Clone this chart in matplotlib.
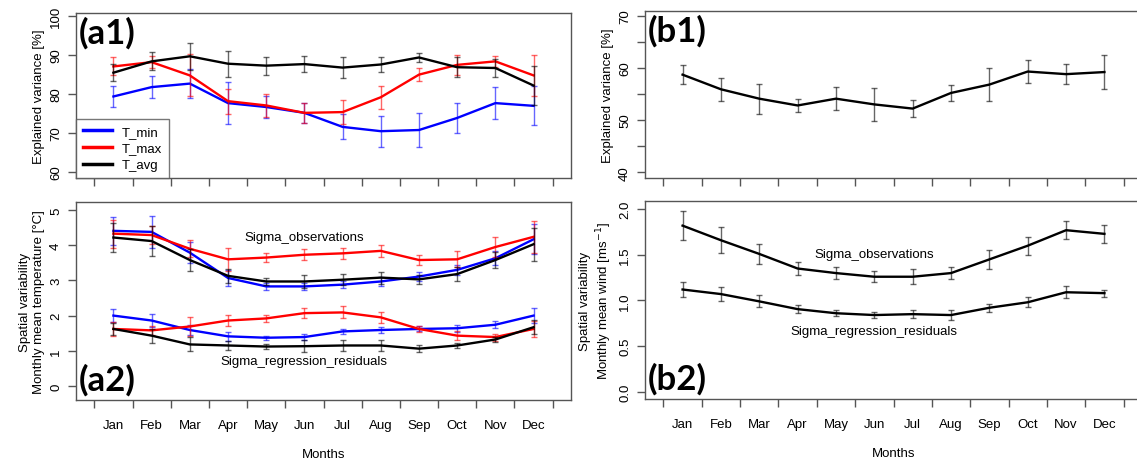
import numpy as np
import matplotlib
matplotlib.use('Agg')
import matplotlib.pyplot as plt
from matplotlib.ticker import FixedLocator, NullFormatter, FixedFormatter

plt.rcParams['font.family'] = ['Liberation Sans', 'DejaVu Sans']

months = ['Jan', 'Feb', 'Mar', 'Apr', 'May', 'Jun', 'Jul', 'Aug', 'Sep', 'Oct', 'Nov', 'Dec']

# (a1) explained variance, temperature
tmin_var = [79.3, 81.7, 82.6, 77.6, 76.6, 75.1, 71.5, 70.4, 70.7, 73.8, 77.6, 76.9]
tmin_var_err = [2.8, 2.8, 3.7, 5.4, 2.7, 2.6, 3.2, 4.0, 4.3, 3.8, 4.1, 5.0]
tmax_var = [87.0, 88.1, 84.7, 78.1, 77.0, 75.1, 75.3, 79.1, 84.9, 87.4, 88.3, 84.7]
tmax_var_err = [2.3, 1.5, 5.4, 3.2, 2.9, 2.6, 3.0, 2.9, 1.7, 2.6, 1.5, 5.2]
tavg_var = [85.4, 88.3, 89.6, 87.7, 87.2, 87.6, 86.7, 87.5, 89.3, 86.8, 86.6, 82.1]
tavg_var_err = [2.2, 2.3, 3.4, 3.3, 2.3, 2.1, 2.6, 2.0, 1.2, 2.6, 2.3, 5.0]

# (a2) spatial variability, temperature
tmin_obs = [4.41, 4.38, 3.79, 3.07, 2.83, 2.83, 2.88, 2.97, 3.11, 3.30, 3.63, 4.17]
tmin_obs_err = [0.40, 0.45, 0.30, 0.23, 0.10, 0.10, 0.10, 0.12, 0.12, 0.15, 0.20, 0.43]
tmax_obs = [4.33, 4.29, 3.90, 3.60, 3.65, 3.73, 3.77, 3.84, 3.58, 3.60, 3.95, 4.24]
tmax_obs_err = [0.40, 0.25, 0.24, 0.33, 0.12, 0.15, 0.16, 0.17, 0.14, 0.23, 0.28, 0.46]
tavg_obs = [4.22, 4.12, 3.58, 3.13, 2.97, 2.97, 3.02, 3.08, 3.03, 3.18, 3.58, 4.03]
tavg_obs_err = [0.40, 0.42, 0.31, 0.20, 0.11, 0.19, 0.16, 0.17, 0.13, 0.20, 0.23, 0.47]

tmin_res = [2.00, 1.86, 1.59, 1.41, 1.37, 1.39, 1.55, 1.59, 1.62, 1.64, 1.74, 2.00]
tmin_res_err = [0.19, 0.18, 0.15, 0.12, 0.06, 0.08, 0.08, 0.08, 0.07, 0.10, 0.10, 0.22]
tmax_res = [1.62, 1.58, 1.69, 1.86, 1.92, 2.07, 2.09, 1.95, 1.62, 1.43, 1.39, 1.62]
tmax_res_err = [0.20, 0.12, 0.27, 0.17, 0.10, 0.15, 0.17, 0.15, 0.08, 0.12, 0.10, 0.22]
tavg_res = [1.62, 1.43, 1.18, 1.15, 1.12, 1.13, 1.15, 1.15, 1.06, 1.15, 1.32, 1.67]
tavg_res_err = [0.17, 0.20, 0.20, 0.14, 0.06, 0.17, 0.16, 0.15, 0.10, 0.08, 0.06, 0.20]

# (b1) explained variance, wind
wind_var = [58.7, 55.9, 54.1, 52.8, 54.1, 53.0, 52.2, 55.2, 56.8, 59.3, 58.8, 59.2]
wind_var_err = [1.85, 2.25, 2.9, 1.3, 2.2, 3.1, 1.7, 1.6, 3.2, 2.2, 1.9, 3.3]

# (b2) spatial variability, wind
wind_obs = [1.82, 1.66, 1.51, 1.35, 1.30, 1.26, 1.26, 1.30, 1.45, 1.60, 1.77, 1.73]
wind_obs_err = [0.155, 0.145, 0.105, 0.07, 0.07, 0.06, 0.08, 0.07, 0.105, 0.10, 0.10, 0.095]
wind_res = [1.12, 1.07, 0.99, 0.905, 0.86, 0.84, 0.85, 0.84, 0.92, 0.98, 1.09, 1.08]
wind_res_err = [0.085, 0.08, 0.065, 0.045, 0.03, 0.035, 0.045, 0.05, 0.045, 0.055, 0.065, 0.04]

x = np.arange(1, 13)
W, H = 1137.0, 464.0
GREY = '#555555'
BLUE = '#0000ff'
RED = '#ff0000'
FS = 9.5
BIG = 25


def make_axes(fig, left, right, top, bottom):
    return fig.add_axes([left / W, 1 - bottom / H, (right - left) / W, (bottom - top) / H])


def style(ax, ylim, yticks, ylabels, show_months):
    ax.set_xlim(0.02, 12.98)
    ax.set_ylim(*ylim)
    for s in ax.spines.values():
        s.set_color(GREY)
        s.set_linewidth(1.0)
    ax.xaxis.set_major_locator(FixedLocator(np.arange(0.5, 13, 1.0)))
    ax.xaxis.set_major_formatter(NullFormatter())
    ax.tick_params(axis='x', which='major', length=6, width=1, color=GREY)
    if show_months:
        ax.xaxis.set_minor_locator(FixedLocator(x))
        ax.xaxis.set_minor_formatter(FixedFormatter(months))
        ax.tick_params(axis='x', which='minor', length=0, pad=14, labelsize=FS)
    ax.yaxis.set_major_locator(FixedLocator(yticks))
    ax.yaxis.set_major_formatter(FixedFormatter(ylabels))
    ax.tick_params(axis='y', length=6, width=1, color=GREY, labelsize=FS, pad=4)
    for lab in ax.get_yticklabels():
        lab.set_rotation(90)
        lab.set_va('center')


def series(ax, y, err, color, label=None):
    ax.errorbar(x, y, yerr=err, fmt='none', ecolor=color, elinewidth=1.0,
                capsize=2.5, capthick=1.0, alpha=0.6)
    ax.plot(x, y, color=color, lw=1.7, label=label)


fig = plt.figure(figsize=(W / 100, H / 100), dpi=100)

# (a1)
ax = make_axes(fig, 76, 571, 14, 179)
series(ax, tmin_var, tmin_var_err, BLUE, 'T_min')
series(ax, tmax_var, tmax_var_err, RED, 'T_max')
series(ax, tavg_var, tavg_var_err, 'black', 'T_avg')
style(ax, (58.4, 100.7), [60, 70, 80, 90, 100], ['60', '70', '80', '90', '100'], False)
ax.set_ylabel('Explained variance [%]', fontsize=FS, labelpad=4)
leg = ax.legend(loc='lower left', bbox_to_anchor=(0, 0), borderaxespad=0,
                fancybox=False, edgecolor=GREY, fontsize=FS, handlelength=2.2,
                labelspacing=0.35, borderpad=0.5)
leg.get_frame().set_linewidth(1.0)
for h in leg.get_lines():
    h.set_linewidth(2.5)
ax.text(0.005, 0.98, '(a1)', transform=ax.transAxes, ha='left', va='top',
        fontsize=BIG, fontweight='bold', family='Lato')

# (a2)
ax = make_axes(fig, 76, 571, 203, 401)
series(ax, tmin_obs, tmin_obs_err, BLUE)
series(ax, tmax_obs, tmax_obs_err, RED)
series(ax, tavg_obs, tavg_obs_err, 'black')
series(ax, tmin_res, tmin_res_err, BLUE)
series(ax, tmax_res, tmax_res_err, RED)
series(ax, tavg_res, tavg_res_err, 'black')
style(ax, (-0.4, 5.23), [0, 1, 2, 3, 4, 5], ['0', '1', '2', '3', '4', '5'], True)
ax.set_ylabel('Spatial variability\nMonthly mean temperature [°C]', fontsize=FS, labelpad=4)
ax.set_xlabel('Months', fontsize=FS, labelpad=12)
ax.text(6, 4.24, 'Sigma_observations', ha='center', va='center', fontsize=FS)
ax.text(6, 0.7, 'Sigma_regression_residuals', ha='center', va='center', fontsize=FS)
ax.text(0.005, 0.02, '(a2)', transform=ax.transAxes, ha='left', va='bottom',
        fontsize=BIG, fontweight='bold', family='Lato')

# (b1)
ax = make_axes(fig, 645, 1142, 12, 179)
series(ax, wind_var, wind_var_err, 'black')
style(ax, (38.9, 70.9), [40, 45, 50, 55, 60, 65, 70], ['40', '', '50', '', '60', '', '70'], False)
ax.set_ylabel('Explained variance [%]', fontsize=FS, labelpad=4)
ax.text(0.005, 0.98, '(b1)', transform=ax.transAxes, ha='left', va='top',
        fontsize=BIG, fontweight='bold', family='Lato')

# (b2)
ax = make_axes(fig, 645, 1142, 202, 400)
series(ax, wind_obs, wind_obs_err, 'black')
series(ax, wind_res, wind_res_err, 'black')
style(ax, (-0.08, 2.09), [0, 0.5, 1.0, 1.5, 2.0], ['0.0', '0.5', '1.0', '1.5', '2.0'], True)
ax.set_ylabel('Spatial variability\nMonthly mean wind [ms$^{-1}$]', fontsize=FS, labelpad=4)
ax.set_xlabel('Months', fontsize=FS, labelpad=12)
ax.text(6, 1.51, 'Sigma_observations', ha='center', va='center', fontsize=FS)
ax.text(6, 0.67, 'Sigma_regression_residuals', ha='center', va='center', fontsize=FS)
ax.text(0.005, 0.02, '(b2)', transform=ax.transAxes, ha='left', va='bottom',
        fontsize=BIG, fontweight='bold', family='Lato')

fig.savefig('out.png', dpi=100)
